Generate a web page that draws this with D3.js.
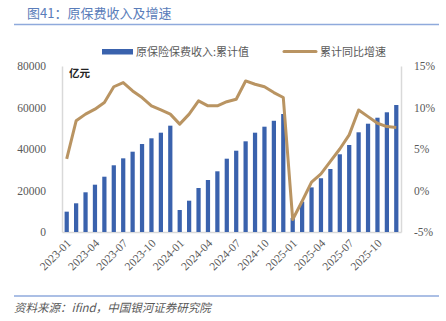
<!DOCTYPE html>
<html>
<head>
<meta charset="utf-8">
<script src="https://cdn.jsdelivr.net/npm/d3@7"></script>
<style>
  html, body { margin: 0; padding: 0; background: #fff; }
  #chart { width: 446px; height: 321px; }
  text { font-family: "Liberation Serif", "Noto Sans CJK SC", serif; }
  .cjk { font-family: "Noto Sans CJK SC", "Liberation Serif", sans-serif; }
</style>
</head>
<body>
<div id="chart"></div>
<script>
// months, 2023-01 .. 2025-12
const months = [
  "2023-01","2023-02","2023-03","2023-04","2023-05","2023-06","2023-07","2023-08","2023-09","2023-10","2023-11","2023-12",
  "2024-01","2024-02","2024-03","2024-04","2024-05","2024-06","2024-07","2024-08","2024-09","2024-10","2024-11","2024-12",
  "2025-01","2025-02","2025-03","2025-04","2025-05","2025-06","2025-07","2025-08","2025-09","2025-10","2025-11","2025-12"
];

// 原保险保费收入:累计值 (亿元)
const premium = [
  9800, 13830, 19130, 22800, 26650, 32150, 35500, 38700, 42400, 45150, 47860, 51240,
  10600, 15090, 21200, 25060, 29250, 35330, 39180, 43700, 47860, 50750, 53600, 56870,
  6800, 14600, 21500, 25900, 30360, 37450, 41930, 48050, 52190, 55080, 57690, 61200
];

// 累计同比增速 (%)
const growth = [
  3.8, 8.4, 9.2, 9.8, 10.6, 12.5, 13.0, 12.0, 11.2, 10.2, 9.7, 9.2,
  8.0, 9.2, 10.8, 10.2, 10.2, 10.7, 11.0, 13.2, 12.8, 12.5, 11.8, 11.2,
  -3.5, -1.3, 1.0, 2.0, 3.5, 5.0, 6.7, 9.7, 8.9, 8.1, 7.7, 7.6
];

const leftTicks = [0, 20000, 40000, 60000, 80000];
const rightTicks = [-5, 0, 5, 10, 15];
const xTicks = months.filter((m, i) => i % 3 === 0);

const BAR_COLOR = "#3a62ad";
const LINE_COLOR = "#b99462";
const RULE_COLOR = "#8faadc";
const AXIS_COLOR = "#d9d9d9";
const TEXT_COLOR = "#595959";

const W = 446, H = 321;
const plot = { left: 62, right: 401, top: 66, bottom: 232 };

const svg = d3.select("#chart").append("svg")
  .attr("width", W)
  .attr("height", H);

// title + rules
svg.append("text")
  .attr("class", "cjk")
  .attr("x", 27)
  .attr("y", 18)
  .attr("font-size", "13px")
  .attr("fill", "#5a7dba")
  .text("图41：原保费收入及增速");

svg.append("line")
  .attr("x1", 14).attr("x2", 439)
  .attr("y1", 24.5).attr("y2", 24.5)
  .attr("stroke", RULE_COLOR)
  .attr("stroke-width", 1.5);

svg.append("line")
  .attr("x1", 14).attr("x2", 439)
  .attr("y1", 296).attr("y2", 296)
  .attr("stroke", RULE_COLOR)
  .attr("stroke-width", 1.5);

svg.append("text")
  .attr("class", "cjk")
  .attr("x", 14)
  .attr("y", 312)
  .attr("font-size", "11.5px")
  .attr("font-style", "italic")
  .attr("fill", TEXT_COLOR)
  .text("资料来源：ifind，中国银河证券研究院");

// scales
const x = d3.scaleBand()
  .domain(months)
  .range([plot.left, plot.right])
  .paddingInner(0.55)
  .paddingOuter(0.275);

const yL = d3.scaleLinear().domain([0, 80000]).range([plot.bottom, plot.top]);
const yR = d3.scaleLinear().domain([-5, 15]).range([plot.bottom, plot.top]);

// axes
const axisL = svg.append("g")
  .attr("transform", `translate(${plot.left},0)`)
  .call(d3.axisLeft(yL).tickValues(leftTicks).tickSize(0).tickPadding(16).tickFormat(d3.format("d")));

const axisR = svg.append("g")
  .attr("transform", `translate(${plot.right},0)`)
  .call(d3.axisRight(yR).tickValues(rightTicks).tickSize(0).tickPadding(13).tickFormat(d => d + "%"));

[axisL, axisR].forEach(a => {
  a.select(".domain").attr("stroke", AXIS_COLOR).attr("stroke-width", 1.5);
  a.selectAll("text")
    .attr("font-size", "11.5px")
    .attr("fill", TEXT_COLOR)
    .attr("font-family", "Liberation Serif");
});

const axisB = svg.append("g")
  .attr("transform", `translate(0,${plot.bottom})`)
  .call(d3.axisBottom(x).tickValues(xTicks).tickSize(0).tickPadding(0));

axisB.select(".domain").attr("stroke", AXIS_COLOR).attr("stroke-width", 1.5);
axisB.selectAll("text")
  .attr("font-size", "11.5px")
  .attr("fill", TEXT_COLOR)
  .attr("font-family", "Liberation Serif")
  .attr("text-anchor", "end")
  .attr("dy", 0)
  .attr("y", 0)
  .attr("transform", "translate(5,12) rotate(-45)");

// bars
svg.append("g")
  .selectAll("rect")
  .data(months)
  .join("rect")
  .attr("x", d => x(d))
  .attr("width", x.bandwidth())
  .attr("y", (d, i) => yL(premium[i]))
  .attr("height", (d, i) => plot.bottom - yL(premium[i]))
  .attr("fill", BAR_COLOR);

// growth line
const line = d3.line()
  .x((d, i) => x(months[i]) + x.bandwidth() / 2)
  .y(d => yR(d));

svg.append("path")
  .datum(growth)
  .attr("d", line)
  .attr("fill", "none")
  .attr("stroke", LINE_COLOR)
  .attr("stroke-width", 3)
  .attr("stroke-linejoin", "round");

// unit label
svg.append("text")
  .attr("class", "cjk")
  .attr("x", 69)
  .attr("y", 77)
  .attr("font-size", "10.5px")
  .attr("font-weight", "bold")
  .attr("fill", "#222")
  .text("亿元");

// legend
const legend = svg.append("g");
legend.append("rect")
  .attr("x", 102).attr("y", 49)
  .attr("width", 31).attr("height", 5.5)
  .attr("fill", BAR_COLOR);
legend.append("text")
  .attr("class", "cjk")
  .attr("x", 136).attr("y", 56)
  .attr("font-size", "11px")
  .attr("fill", TEXT_COLOR)
  .text("原保险保费收入:累计值");
legend.append("line")
  .attr("x1", 284).attr("x2", 316)
  .attr("y1", 51.5).attr("y2", 51.5)
  .attr("stroke", LINE_COLOR)
  .attr("stroke-width", 3)
  .attr("stroke-linecap", "round");
legend.append("text")
  .attr("class", "cjk")
  .attr("x", 320).attr("y", 56)
  .attr("font-size", "11px")
  .attr("fill", TEXT_COLOR)
  .text("累计同比增速");
</script>
</body>
</html>
